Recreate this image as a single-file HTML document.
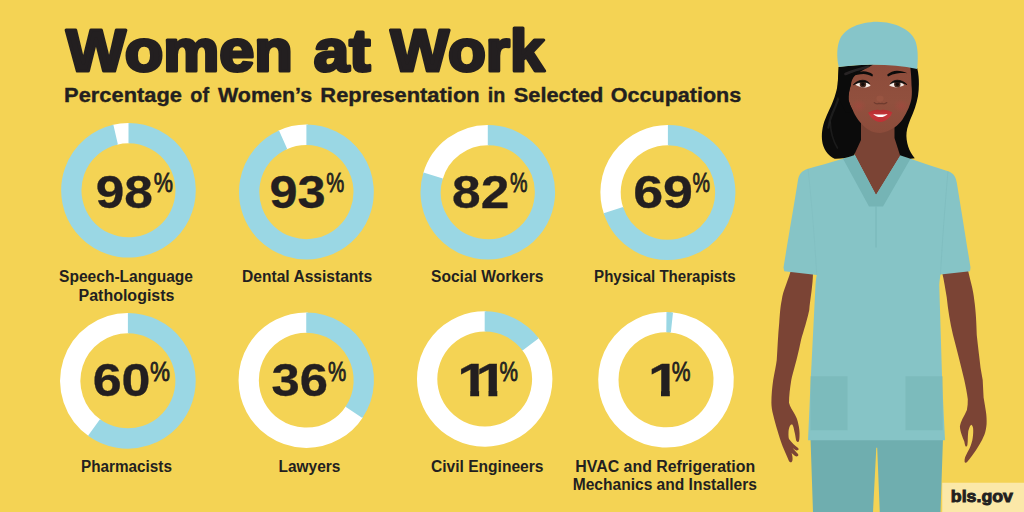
<!DOCTYPE html>
<html lang="en"><head><meta charset="utf-8"><title>Women at Work</title>
<style>
html,body{margin:0;padding:0;background:#F4D354;}
body{width:1024px;height:512px;overflow:hidden;}
svg{display:block;}
text,tspan{font-family:"Liberation Sans",sans-serif;font-weight:700;fill:#231F20;}
.title{font-size:59px;stroke:#231F20;stroke-width:3.2px;stroke-linejoin:round;}
.sub{font-size:19.5px;stroke:#231F20;stroke-width:0.35px;}
.num{font-size:45.5px;stroke:#231F20;stroke-width:0.3px;}
.pct{font-size:27.5px;font-weight:400;stroke:#231F20;stroke-width:0.8px;}
.lab{font-size:16px;}
.bls{font-size:17.2px;stroke:#231F20;stroke-width:0.9px;}
</style></head>
<body>
<svg width="1024" height="512" viewBox="0 0 1024 512">
<rect width="1024" height="512" fill="#F4D354"/>
<path d="M114.48,134.90A57.15,57.15 0 0 1 129.70,133.16" fill="none" stroke="#FFFFFF" stroke-width="20.3"/>
<path d="M128.50,133.15A57.15,57.15 0 1 1 115.64,134.61" fill="none" stroke="#9AD7E4" stroke-width="20.3"/>
<path d="M282.02,140.20A57.25,57.25 0 0 1 307.60,134.76" fill="none" stroke="#FFFFFF" stroke-width="20.3"/>
<path d="M306.40,134.75A57.25,57.25 0 1 1 283.11,139.70" fill="none" stroke="#9AD7E4" stroke-width="20.3"/>
<path d="M432.81,176.64A57.15,57.15 0 0 1 489.00,135.06" fill="none" stroke="#FFFFFF" stroke-width="20.3"/>
<path d="M487.80,135.05A57.15,57.15 0 1 1 433.15,175.49" fill="none" stroke="#9AD7E4" stroke-width="20.3"/>
<path d="M613.74,211.36A57.35,57.35 0 0 1 669.10,135.16" fill="none" stroke="#FFFFFF" stroke-width="20.3"/>
<path d="M667.90,135.15A57.35,57.35 0 1 1 613.36,210.22" fill="none" stroke="#9AD7E4" stroke-width="20.3"/>
<path d="M95.00,428.14A57.65,57.65 0 0 1 129.11,323.16" fill="none" stroke="#FFFFFF" stroke-width="20.3"/>
<path d="M127.90,323.15A57.65,57.65 0 1 1 94.01,427.44" fill="none" stroke="#9AD7E4" stroke-width="20.3"/>
<path d="M354.62,411.38A57.55,57.55 0 1 1 307.46,322.66" fill="none" stroke="#FFFFFF" stroke-width="20.3"/>
<path d="M306.25,322.65A57.55,57.55 0 0 1 353.96,412.38" fill="none" stroke="#9AD7E4" stroke-width="20.3"/>
<path d="M529.93,343.41A57.55,57.55 0 1 1 485.91,321.46" fill="none" stroke="#FFFFFF" stroke-width="20.3"/>
<path d="M484.70,321.45A57.55,57.55 0 0 1 530.66,344.37" fill="none" stroke="#9AD7E4" stroke-width="20.3"/>
<path d="M670.72,322.35A57.65,57.65 0 1 1 667.61,322.18" fill="none" stroke="#FFFFFF" stroke-width="20.3"/>
<path d="M666.40,322.15A57.65,57.65 0 0 1 671.93,322.47" fill="none" stroke="#9AD7E4" stroke-width="20.3"/>

<defs>
<linearGradient id="faceg" x1="0" y1="0" x2="0" y2="1"><stop offset="0" stop-color="#8D4C3B"/><stop offset="0.55" stop-color="#91503E"/><stop offset="1" stop-color="#8C4C3B"/></linearGradient>
<radialGradient id="blush"><stop offset="0" stop-color="#B04640" stop-opacity="0.42"/><stop offset="1" stop-color="#B04640" stop-opacity="0"/></radialGradient>
<linearGradient id="lipg" x1="0" y1="0" x2="0" y2="1"><stop offset="0" stop-color="#B22C30"/><stop offset="0.5" stop-color="#C5353A"/><stop offset="1" stop-color="#BE3034"/></linearGradient>
</defs>
<g id="figure">
<!-- pants -->
<path d="M810.5,438 L943,438 L940.5,512 L879.75,512 L877.2,447.75 L876.3,447.75 L873,512 L813,512 Z" fill="#6FAEAF"/>
<!-- arms -->
<path d="M791.5,268 L813,272 C813,285 810,300 809.25,310 C806,325 802,335 800.5,342.5 C797,360 793,372 791.3,380 C790,388 789,396 789,402.8 C790,407 792.5,410.5 794.3,413.4 C796.5,417 797.8,420.5 798.3,424 C799.3,428 799.8,432.5 799.5,436.2 C799.4,439 799.2,441.3 798.3,441.9 C797.2,442.4 796.4,441.4 796,439.8 C795.5,436.5 795,433.5 794.3,431 C793.8,428.5 793.3,426 792.5,424.8 C791.5,424 790.4,424.8 789.9,426 C789,428 788.5,430.5 788.5,432.7 C788.4,435 788.5,437.3 789,438.9 C791.5,442.5 795,445.5 797.8,447.7 C798.8,448.6 799,449.6 798.3,449.8 C797.5,450.6 796.7,450.6 796,450.3 C794.8,449.6 793.6,448.7 792.5,447.7 C794.3,450 796.3,452.2 797.8,453.8 C798.6,454.8 798.6,455.7 797.8,456 C797,456.6 796,456.5 795.1,456 C793.9,455.2 792.7,454.1 791.6,453 C792.3,455.3 792.8,457.8 792.5,460 C792.2,461.8 791.3,462.6 790.2,462.2 C789.2,461.8 788.6,460.5 788.1,459 C786.5,455 784.5,451 782.8,446.8 C780.8,441.5 779,436 777.6,431 C776,425.5 774.3,420 773.2,415 C772,410.5 771.4,406.5 771.4,402.8 C771.4,395 772.2,387 773.2,380 C774.6,372 776,366 776.75,360 C777.5,348 778,335 779.25,322.5 C780,312 780.5,306 781.75,300 C783,290 789,279 791.5,268 Z" fill="#7B4435"/>
<path d="M942,272 L967.5,268 C969.5,278 973.5,290 974.25,300 C976,312 976.5,325 976.75,335 C978,347 979.5,358 980.5,367.5 C981.3,372 982,376 982.7,380 C983,386 983.3,392 983.6,397.6 C984.3,402.5 985.3,407 985.9,411.6 C986.5,415.5 986.8,420 986.6,423.9 C986.3,427.8 985.6,431.3 984.5,434.5 C983,438.2 981.2,441.7 979.2,445 C977,448.7 974.6,452.2 972.2,455.6 C970.5,458 968.7,460.3 966.9,462.2 C965.8,463 964.7,462.7 964.6,461.7 C964.4,460.3 964.7,458.7 965.1,457.3 C966.4,454.2 968,451.2 969.5,448.5 C971,445.2 972.2,441.5 972.7,438 C973.2,434.7 973.4,431.3 973.1,428.3 C972.8,426.5 972.2,425.2 971.3,424.8 C970.2,425.3 969.3,427.8 968.3,431 C968,433.3 967.9,435.7 967.8,438 C967.8,440.5 967.7,443 967.4,445 C967,446.3 966.3,446.8 965.7,446.4 C965,445.2 964.6,443.3 964.3,441.5 C963.3,439.2 962.3,436.8 961.6,434.5 C960.7,432 960,429.2 959.9,426.6 C960.3,423.8 961.3,421.2 962.5,418.7 C964,415.8 965.7,412.9 966.9,409.9 C967.6,406.5 967.9,403 967.8,399.3 C967,392.5 965.5,386 964.3,380 C961,366 957,350 953,335 C950,322 948,310 946.75,297.5 C945.5,290 944,280 942,272 Z" fill="#7B4435"/>
<!-- neck -->
<path d="M860,118 L895.5,118 L901,158 L877,198 L854,158 Z" fill="#7B4435"/>
<!-- shirt -->
<path d="M843,158.75 C830,162.5 818,166 808,168.75 C802,170.5 799,174 798,180 C794,205 788,240 783.5,267.5 L784.25,271.25 L816.75,275 C816,278 815.7,282 815.5,285 L810.5,384 L808,440.25 L945,440.25 L942.25,384 L939.25,285 C939.5,281 940,278 940.5,274.5 L970,271.25 L970.5,267.5 C966,240 960.5,205 956.75,182.5 C955.5,175 952,172.5 948,171.25 C936,167.5 923,163 910.5,158.75 L900.8,154.7 L876,195 L854.7,154.7 Z" fill="#86C4C6"/>
<!-- collar -->
<path d="M843,158.75 L854.7,154.7 L876,195 L900.8,154.7 L910.5,158.75 L883,206.5 L869,206.5 Z" fill="#75B4B5"/>
<path d="M876,206.5 L876,247.5" stroke="#75B4B5" stroke-width="0.8" fill="none"/>
<path d="M948,171.25 C945,205 942,245 940.5,274.5" stroke="#75B4B5" stroke-width="0.6" fill="none" opacity="0.6"/>
<path d="M808,168.75 C812,205 815,245 816.75,275" stroke="#75B4B5" stroke-width="0.6" fill="none" opacity="0.4"/>
<!-- pockets -->
<rect x="810.5" y="376.25" width="37" height="54" fill="#75B4B5" opacity="0.55"/>
<rect x="905.5" y="376.25" width="37.2" height="54" fill="#75B4B5" opacity="0.55"/>
<!-- hair back -->
<path d="M838.7,67 C838.5,73 838.3,79 837.7,84.6 C837,89 836,93 834.6,96.9 C833,101.5 831.3,105.5 829.5,109.2 C827.5,113.5 825.8,117.5 824.3,121.5 C823,125.5 822.2,129.7 821.9,133.8 C821.7,137.5 822,141 822.7,144 C823.6,147.6 825.3,150.8 827.4,153.2 C829.5,155.7 832,157.7 834.6,158.8 C838,158.9 841.5,158.6 844.8,158 C848,157.3 851,156.3 854,155.3 L861,140 L861,120 L860,100 L860,80 L873.4,64.7 Z" fill="#0B0B0B"/>
<path d="M917.2,68 C918.6,74 919,79 918.9,84 C918.9,88 918.6,92 918,96 C917.3,100 916.2,104 915,107.7 C913.6,111.7 912,115.6 910.3,119.4 C909,122.5 908,125.7 907.2,128.8 C906.6,131.3 906.4,133.7 906.4,136 C906.5,140.5 907.6,145.5 909.4,149.7 C911,153 913,156 914.8,158.3 L910.5,158.8 L900,155.2 L894.5,138 L894.5,120 L898,119.4 L900,100 L904,85 L905,65 Z" fill="#0B0B0B"/>
<path d="M844.8,72.3 C843,79 842,85 840.7,90.7 C838.5,99 835.5,106.5 832.5,113.3 C830.5,118 829,123 828.4,127.6" stroke="#3a3a3a" stroke-width="2.2" fill="none" opacity="0.4" stroke-linecap="round"/>
<path d="M830.3,122 C830.6,132 833,141 837.5,148" stroke="#3a3a3a" stroke-width="1.6" fill="none" opacity="0.35" stroke-linecap="round"/>
<!-- face -->
<path d="M850.8,85 C850,78 853,70 858,66 L873.4,64.2 L910,65 C911,72 911.4,79 911.5,85 C912,90 912,94 911.5,98.3 C911,101.5 910,104.7 908.75,107.7 C907,111.8 904.8,115.7 902.5,119.4 C900.2,122.5 897.5,125.2 894.7,127.25 C890.5,130.3 885.5,132.3 880.2,132.9 C877,132.7 874,132.2 871.25,131.2 C867,129.4 863.3,126.2 860.3,122.6 C857.5,119.2 855.2,115.5 853.3,111.6 C851.2,107.5 849.5,103.7 848.6,100 C848,95 849.5,89 850.8,85 Z" fill="url(#faceg)"/>
<ellipse cx="858.5" cy="106" rx="8" ry="7" fill="url(#blush)"/>
<ellipse cx="901.5" cy="106" rx="8" ry="7" fill="url(#blush)"/>
<!-- hair fringe -->
<path d="M838.7,67 C850,65.3 862,64.6 873.4,64.5 C867,68 860,71.5 855,75.5 C852.5,78 851.2,81.5 850.9,85 C849.5,89.5 848.3,95 848.6,100 C849.5,104 851.5,108 853.3,111.6 L846,113 L837,95 Z" fill="#0B0B0B"/>
<path d="M868,66.8 C861,68.5 853,70.8 845.5,74" stroke="#40383a" stroke-width="2.6" fill="none" opacity="0.55" stroke-linecap="round"/>
<!-- cap -->
<path d="M838.75,67 C836.3,56 837,46 840,39 C845,28 860,22 877,21.7 C895,22 910,29 915,40 C918,47 918.3,58 917.2,69 C902,65.5 886,64.5 870,64.7 C859,64.9 848,65.6 838.75,67 Z" fill="#86C5C9"/>
<!-- brows -->
<path d="M851.7,75.9 C855,73.2 859,71.6 863.4,71.3 C867,71.4 870.5,72.6 872.6,74.3 C873,75.3 872.8,76.3 872.2,76.5 C869.5,74.9 866.5,74 863.4,73.9 C859.5,74 855.5,74.8 851.7,75.9 Z" fill="#0B0B0B"/>
<path d="M887.5,74.3 C890,72.3 893.5,71 897,70.8 C900.8,70.8 904.5,71.7 907.4,73.2 C904,72.9 900.5,73 897,73.5 C893.8,74 890.8,75 888.1,76.4 C887.4,76 887.2,75 887.5,74.3 Z" fill="#0B0B0B"/>
<!-- eyes -->
<path d="M855.4,84.7 C858,81.8 861,81 863.2,81 C866,81.2 868.7,83 870.6,85.8 C868,87.4 865.5,87.7 863.4,87.5 C860.5,87.2 857.8,86.2 855.4,84.7 Z" fill="#F6ECE6"/>
<circle cx="862.9" cy="84.3" r="3.2" fill="#46291E"/><circle cx="862.9" cy="84.3" r="1.7" fill="#150d0a"/>
<path d="M853.3,84.9 C855.5,82 859,80.3 862.8,80.2 C866,80.3 868.3,81.8 869.6,83.6 C867.5,82.6 865,82 862.8,82 C859.3,82.2 856,83.3 853.3,84.9 Z" fill="#0B0B0B" stroke="#0B0B0B" stroke-width="0.7" stroke-linejoin="round"/>
<path d="M889.2,85.6 C891,83 893.8,81.2 896.8,81 C899.5,81 902,82.4 904.2,85 C902,86.3 899.5,87.2 897,87.4 C894.3,87.5 891.5,86.9 889.2,85.6 Z" fill="#F6ECE6"/>
<circle cx="897.3" cy="84.2" r="3.2" fill="#46291E"/><circle cx="897.3" cy="84.2" r="1.7" fill="#150d0a"/>
<path d="M890.3,83.8 C891.7,81.8 894,80.3 897.2,80.2 C901,80.3 904.6,81.9 906.9,84.6 C904,83.2 900.6,82.2 897.2,82 C894.8,82 892.3,82.7 890.3,83.8 Z" fill="#0B0B0B" stroke="#0B0B0B" stroke-width="0.7" stroke-linejoin="round"/>
<!-- nose -->
<ellipse cx="880" cy="98.6" rx="3.6" ry="3.2" fill="#A05A45" opacity="0.55"/>
<path d="M874.3,102.6 C875.5,103.8 877.5,104 879,103.4 C880,103.8 881,103.8 882,103.4 C883.5,104 885.5,103.8 886.8,102.6" stroke="#5E2F26" stroke-width="1.3" fill="none" opacity="0.65" stroke-linecap="round"/>
<!-- lips -->
<path d="M868.1,112.8 C871.5,110.5 875.5,109.4 878,109.7 C878.8,109.9 879.6,110.2 880.2,110.6 C880.9,110.2 881.6,109.9 882.4,109.7 C885,109.4 889,110.3 892.3,112.4 C890.5,116.5 887.8,119.6 884.5,121 C883,121.6 881.5,121.9 880.2,121.9 C878.8,121.9 877.3,121.6 876,121 C872.8,119.6 870,116.8 868.1,112.8 Z" fill="url(#lipg)"/>
<path d="M873.2,113.9 C877.5,114.8 883,114.8 887.7,113.9 C886,116 883.3,117 880.4,117 C877.5,117 874.9,116 873.2,113.9 Z" fill="#FFFFFF"/>
</g>
<rect x="942.25" y="482.75" width="82" height="30" fill="#FBE8A8"/>

<text><tspan class="title" x="66.30" y="70.9" textLength="226.50" lengthAdjust="spacingAndGlyphs">Women</tspan> <tspan class="title" x="313.75" y="70.9" textLength="56.60" lengthAdjust="spacingAndGlyphs">at</tspan> <tspan class="title" x="390.55" y="70.9" textLength="153.90" lengthAdjust="spacingAndGlyphs">Work</tspan></text>
<text><tspan class="sub" x="64.10" y="101.75" textLength="117.90" lengthAdjust="spacingAndGlyphs">Percentage</tspan> <tspan class="sub" x="190.35" y="101.75" textLength="18.75" lengthAdjust="spacingAndGlyphs">of</tspan> <tspan class="sub" x="218.00" y="101.75" textLength="94.15" lengthAdjust="spacingAndGlyphs">Women’s</tspan> <tspan class="sub" x="320.35" y="101.75" textLength="159.30" lengthAdjust="spacingAndGlyphs">Representation</tspan> <tspan class="sub" x="487.85" y="101.75" textLength="17.55" lengthAdjust="spacingAndGlyphs">in</tspan> <tspan class="sub" x="513.75" y="101.75" textLength="89.65" lengthAdjust="spacingAndGlyphs">Selected</tspan> <tspan class="sub" x="610.85" y="101.75" textLength="130.40" lengthAdjust="spacingAndGlyphs">Occupations</tspan></text>
<text><tspan class="num" x="95.70" y="207.5" textLength="57.20" lengthAdjust="spacingAndGlyphs">98</tspan><tspan class="pct" x="153.76" y="192.4" textLength="19.24" lengthAdjust="spacingAndGlyphs">%</tspan></text>
<text><tspan class="num" x="269.45" y="207.5" textLength="56.10" lengthAdjust="spacingAndGlyphs">93</tspan><tspan class="pct" x="326.25" y="192.4" textLength="18.00" lengthAdjust="spacingAndGlyphs">%</tspan></text>
<text><tspan class="num" x="452.10" y="207.5" textLength="57.20" lengthAdjust="spacingAndGlyphs">82</tspan><tspan class="pct" x="510.00" y="192.4" textLength="17.50" lengthAdjust="spacingAndGlyphs">%</tspan></text>
<text><tspan class="num" x="633.20" y="207.5" textLength="59.85" lengthAdjust="spacingAndGlyphs">69</tspan><tspan class="pct" x="692.50" y="192.4" textLength="17.50" lengthAdjust="spacingAndGlyphs">%</tspan></text>
<text><tspan class="num" x="92.70" y="396.25" textLength="57.85" lengthAdjust="spacingAndGlyphs">60</tspan><tspan class="pct" x="150.00" y="381.2" textLength="20.00" lengthAdjust="spacingAndGlyphs">%</tspan></text>
<text><tspan class="num" x="271.60" y="396.25" textLength="56.45" lengthAdjust="spacingAndGlyphs">36</tspan><tspan class="pct" x="328.00" y="381.2" textLength="18.25" lengthAdjust="spacingAndGlyphs">%</tspan></text>
<clipPath id="clip11" clipPathUnits="userSpaceOnUse"><rect x="452.30" y="356.25" width="51.70" height="34.46"/><rect x="470.25" y="390.25" width="8.8" height="8"/><rect x="488.50" y="390.25" width="8.8" height="8"/></clipPath>
<g clip-path="url(#clip11)"><text class="num" transform="scale(1.263,1)" x="362.07 376.52" y="396.25">11</text></g>
<text><tspan class="pct" x="499.50" y="381.2" textLength="18.50" lengthAdjust="spacingAndGlyphs">%</tspan></text>
<clipPath id="clip1" clipPathUnits="userSpaceOnUse"><rect x="643.05" y="356.25" width="33.45" height="34.46"/><rect x="661.00" y="390.25" width="8.8" height="8"/></clipPath>
<g clip-path="url(#clip1)"><text class="num" transform="scale(1.263,1)" x="513.10" y="396.25">1</text></g>
<text><tspan class="pct" x="671.75" y="381.2" textLength="18.75" lengthAdjust="spacingAndGlyphs">%</tspan></text>
<text><tspan class="lab" x="59.10" y="282.3" textLength="133.90" lengthAdjust="spacingAndGlyphs">Speech-Language</tspan></text>
<text><tspan class="lab" x="78.60" y="300.6" textLength="95.80" lengthAdjust="spacingAndGlyphs">Pathologists</tspan></text>
<text><tspan class="lab" x="242.10" y="282.3" textLength="130.10" lengthAdjust="spacingAndGlyphs">Dental Assistants</tspan></text>
<text><tspan class="lab" x="431.00" y="282.3" textLength="112.40" lengthAdjust="spacingAndGlyphs">Social Workers</tspan></text>
<text><tspan class="lab" x="594.10" y="282.3" textLength="141.50" lengthAdjust="spacingAndGlyphs">Physical Therapists</tspan></text>
<text><tspan class="lab" x="81.00" y="471.5" textLength="90.90" lengthAdjust="spacingAndGlyphs">Pharmacists</tspan></text>
<text><tspan class="lab" x="278.60" y="471.5" textLength="61.80" lengthAdjust="spacingAndGlyphs">Lawyers</tspan></text>
<text><tspan class="lab" x="431.00" y="471.5" textLength="112.40" lengthAdjust="spacingAndGlyphs">Civil Engineers</tspan></text>
<text><tspan class="lab" x="575.30" y="471.5" textLength="179.90" lengthAdjust="spacingAndGlyphs">HVAC and Refrigeration</tspan></text>
<text><tspan class="lab" x="572.70" y="489.9" textLength="184.30" lengthAdjust="spacingAndGlyphs">Mechanics and Installers</tspan></text>
<text><tspan class="bls" x="950.85" y="501.5" textLength="62.15" lengthAdjust="spacingAndGlyphs">bls.gov</tspan></text>
</svg>
</body></html>
